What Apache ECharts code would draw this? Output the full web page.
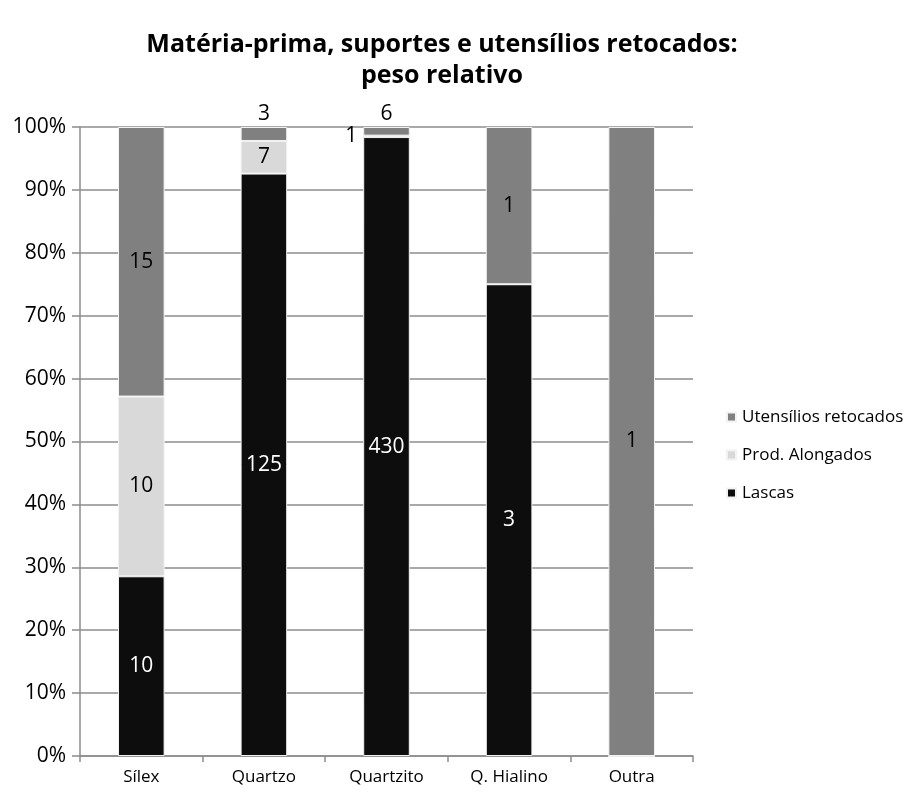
<!DOCTYPE html>
<html>
<head>
<meta charset="utf-8">
<script src="https://cdn.jsdelivr.net/npm/echarts@6/dist/echarts.min.js"></script>
<style>html,body{margin:0;padding:0;background:#fff}#c{width:907px;height:792px}</style>
</head>
<body>
<div id="c"></div>
<script>
const categories = ['Sílex', 'Quartzo', 'Quartzito', 'Q. Hialino', 'Outra'];
const lascas = [10, 125, 430, 3, 0];
const prodAlongados = [10, 7, 1, 0, 0];
const utensilios = [15, 3, 6, 1, 1];
const yTicks = [0, 10, 20, 30, 40, 50, 60, 70, 80, 90, 100];

const totals = categories.map((_, i) => lascas[i] + prodAlongados[i] + utensilios[i]);
const pct = (arr) => arr.map((v, i) => v / totals[i] * 100);

// label placement overrides for thin segments
const labelPos = {
  'Prod. Alongados': { 2: 'left' },
  'Utensílios retocados': { 1: 'top', 2: 'top' }
};

function makeData(name, counts) {
  const p = pct(counts);
  return p.map((v, i) => {
    const item = { value: v, count: counts[i] };
    const pos = labelPos[name] && labelPos[name][i];
    if (pos) item.label = { position: pos, color: '#000', distance: pos === 'left' ? 6 : 2 };
    return item;
  });
}

const font = '"Open Sans", "Noto Sans", sans-serif';
const seriesDefs = [
  { name: 'Lascas', counts: lascas, color: '#0d0d0d', labelColor: '#fff' },
  { name: 'Prod. Alongados', counts: prodAlongados, color: '#d9d9d9', labelColor: '#000' },
  { name: 'Utensílios retocados', counts: utensilios, color: '#808080', labelColor: '#000' }
];

const chart = echarts.init(document.getElementById('c'), null, { renderer: 'canvas' });
chart.setOption({
  animation: false,
  backgroundColor: '#fff',
  title: {
    text: 'Matéria-prima, suportes e utensílios retocados:\npeso relativo',
    left: 442, top: 29, textAlign: 'center', padding: 0,
    textStyle: { fontFamily: font, fontWeight: 'bold', fontSize: 25, lineHeight: 31, color: '#000' }
  },
  legend: {
    orient: 'vertical',
    left: 726, top: 405, padding: 0,
    itemWidth: 9, itemHeight: 9, itemGap: 14,
    icon: 'rect',
    data: ['Utensílios retocados', 'Prod. Alongados', 'Lascas'],
    textStyle: { fontFamily: font, fontSize: 17, color: '#000', padding: [0, 0, 0, 1], lineHeight: 24 }
  },
  grid: { left: 80, right: 214, top: 127, bottom: 36, containLabel: false },
  xAxis: {
    type: 'category',
    data: categories,
    axisLine: { lineStyle: { color: '#8c8c8c', width: 1.5 } },
    axisTick: { show: true, alignWithLabel: false, length: 6, lineStyle: { color: '#8c8c8c', width: 1.5 } },
    axisLabel: { fontFamily: font, fontSize: 17, color: '#000', margin: 13 }
  },
  yAxis: {
    type: 'value',
    min: yTicks[0], max: yTicks[yTicks.length - 1], interval: 10,
    axisLine: { show: true, lineStyle: { color: '#8c8c8c', width: 1.5 } },
    axisTick: { show: true, length: 8, lineStyle: { color: '#8c8c8c', width: 1.5 } },
    splitLine: { lineStyle: { color: '#8c8c8c', width: 1.5 } },
    axisLabel: { fontFamily: font, fontSize: 21, color: '#000', margin: 14, formatter: '{value}%' }
  },
  series: seriesDefs.map(s => ({
    name: s.name,
    type: 'bar',
    stack: 'total',
    barWidth: '38%',
    itemStyle: { color: s.color, borderColor: '#f2f2f2', borderWidth: 1 },
    label: {
      show: true,
      position: 'inside',
      fontFamily: font, fontSize: 21, color: s.labelColor,
      formatter: (p) => p.data.count > 0 ? String(p.data.count) : ''
    },
    data: makeData(s.name, s.counts)
  }))
});
</script>
</body>
</html>
